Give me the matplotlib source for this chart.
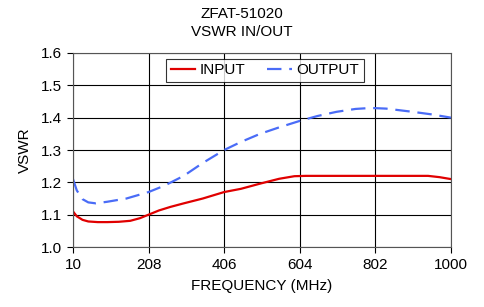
import matplotlib
matplotlib.use("Agg")
import matplotlib.pyplot as plt
import numpy as np

plt.rcParams['font.family'] = ['Liberation Sans', 'DejaVu Sans']

freq_in = [10, 20, 35, 50, 75, 100, 130, 160, 185, 208, 235, 265, 300, 350, 406, 450, 500, 550, 590, 620, 700, 802, 900, 940, 970, 1000]
vswr_in = [1.11, 1.095, 1.084, 1.079, 1.077, 1.077, 1.078, 1.081, 1.089, 1.10, 1.113, 1.124, 1.135, 1.15, 1.17, 1.18, 1.196, 1.211, 1.219, 1.22, 1.22, 1.22, 1.22, 1.22, 1.216, 1.21]

freq_out = [10, 20, 35, 50, 70, 100, 150, 208, 250, 300, 350, 406, 450, 500, 550, 604, 650, 700, 750, 790, 830, 900, 950, 1000]
vswr_out = [1.21, 1.175, 1.148, 1.138, 1.135, 1.14, 1.15, 1.17, 1.19, 1.22, 1.26, 1.30, 1.325, 1.35, 1.37, 1.39, 1.405, 1.418, 1.427, 1.43, 1.428, 1.418, 1.41, 1.40]

xticks = [10, 208, 406, 604, 802, 1000]
yticks = [1.0, 1.1, 1.2, 1.3, 1.4, 1.5, 1.6]

FS = 11

fig = plt.figure(figsize=(4.84, 3.07), dpi=100)
ax = fig.add_axes([0.1508, 0.1954, 0.7810, 0.6320])

ax.plot(freq_in, vswr_in, color='#e00000', lw=1.6, label='INPUT')
ax.plot(freq_out, vswr_out, color='#4a6cf7', lw=1.6, dashes=(6.5, 3.5), label='OUTPUT')

ax.set_xlim(10, 1000)
ax.set_ylim(1.0, 1.6)
ax.set_xticks(xticks)
ax.set_yticks(yticks)
ax.set_xticklabels([str(x) for x in xticks])
ax.set_yticklabels([f"{y:.1f}" for y in yticks])
ax.grid(True, color='black', lw=0.8)
ax.tick_params(direction='out', length=4, width=0.8, labelsize=FS, pad=4)
for s in ax.spines.values():
    s.set_linewidth(0.8)
    s.set_color('#555555')

ax.set_xlabel('FREQUENCY (MHz)', fontsize=FS, labelpad=5)
ax.set_ylabel('VSWR', fontsize=FS, labelpad=6)
fig.text(0.5, 0.955, 'ZFAT-51020', ha='center', va='center', fontsize=FS)
fig.text(0.5, 0.895, 'VSWR IN/OUT', ha='center', va='center', fontsize=FS)

leg = ax.legend(loc='upper center', ncol=2, fontsize=FS, frameon=True, fancybox=False,
                edgecolor='black', handlelength=1.6, columnspacing=1.4, borderpad=0.3,
                handletextpad=0.3, bbox_to_anchor=(0.508, 1.01))
leg.get_frame().set_linewidth(0.8)

fig.savefig('out.png', dpi=100)
